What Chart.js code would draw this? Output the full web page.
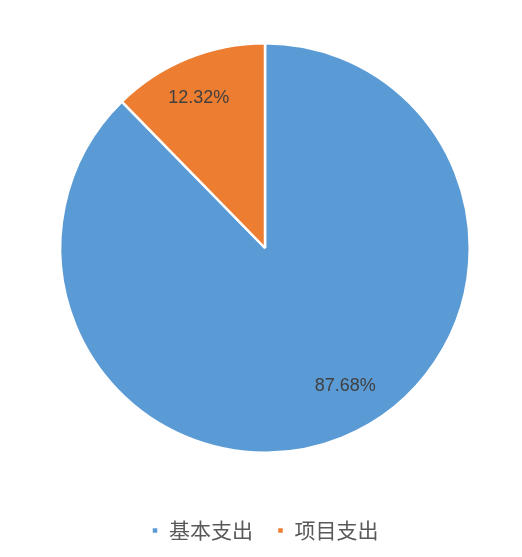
<!DOCTYPE html>
<html>
<head>
<meta charset="utf-8">
<script src="https://cdn.jsdelivr.net/npm/chart.js@4"></script>
<style>
  html, body { margin: 0; padding: 0; background: #fff; }
  #wrap { width: 522px; height: 557px; }
</style>
</head>
<body>
<div id="wrap"><canvas id="myChart"></canvas></div>
<script>
// 数据
const categories = ['基本支出', '项目支出'];
const values = [87.68, 12.32];
const labels = ['87.68%', '12.32%'];
const colors = ['#5B9BD5', '#ED7D31'];

// 在扇区内画百分比
const sliceLabels = {
    id: 'sliceLabels',
    afterDatasetsDraw(chart, args, opts) {
        const ctx = chart.ctx;
        const meta = chart.getDatasetMeta(0);
        ctx.save();
        ctx.font = '18px "Liberation Sans", Arial, sans-serif';
        ctx.fillStyle = '#404040';
        ctx.textAlign = 'center';
        ctx.textBaseline = 'middle';
        meta.data.forEach((arc, i) => {
            const p = arc.getProps(['x', 'y', 'startAngle', 'endAngle', 'outerRadius'], true);
            const mid = (p.startAngle + p.endAngle) / 2 + opts.angleShift[i];
            const r = p.outerRadius * opts.radius[i];
            ctx.fillText(labels[i], p.x + Math.cos(mid) * r, p.y + Math.sin(mid) * r);
        });
        ctx.restore();
    }
};

const ctx = document.getElementById('myChart').getContext('2d');
const myChart = new Chart(ctx, {
    type: 'pie',
    data: {
        labels: categories,
        datasets: [{
            data: values,
            backgroundColor: colors,
            borderColor: '#ffffff',
            borderWidth: 2.5
        }]
    },
    options: {
        responsive: true,
        maintainAspectRatio: false,
        animation: false,
        layout: { padding: { top: 42, left: 59, right: 51, bottom: 6 } },
        plugins: {
            tooltip: { enabled: false },
            legend: {
                position: 'bottom',
                title: {
                    display: true,
                    text: ' ',
                    font: { size: 10 },
                    padding: { top: 30, bottom: 0 }
                },
                labels: {
                    boxWidth: 7,
                    boxHeight: 7,
                    padding: 24,
                    color: '#595959',
                    font: { size: 21, family: '"Noto Sans CJK SC", sans-serif' }
                }
            },
            sliceLabels: { radius: [0.78, 0.80], angleShift: [-0.14, -0.03] }
        }
    },
    plugins: [sliceLabels]
});
</script>
</body>
</html>
